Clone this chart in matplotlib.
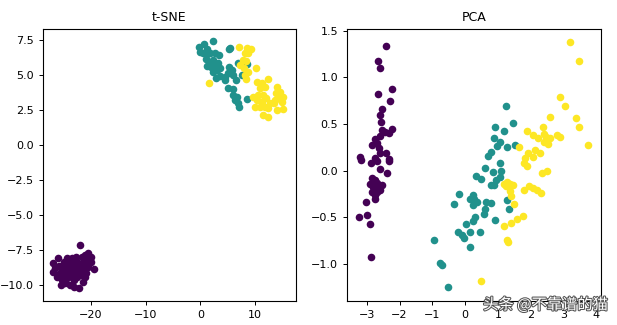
import matplotlib
matplotlib.use("Agg")
import matplotlib.pyplot as plt
import matplotlib.patheffects as pe

# t-SNE embedding (x, y per class)
tsne_setosa_x = [-22.0, -26.9, -26.0, -26.6, -25.8, -25.0, -24.4, -23.5, -22.6, -21.7,
                 -21.1, -20.5, -20.1, -20.9, -20.0, -21.4, -22.1, -22.9, -23.8, -24.7,
                 -25.7, -26.3, -25.0, -24.1, -23.2, -22.3, -21.4, -20.6, -19.5, -20.9,
                 -21.7, -21.1, -22.6, -23.5, -24.4, -25.3, -24.7, -25.5, -23.8, -23.2,
                 -22.3, -23.1, -21.4, -22.0, -24.4, -22.7, -26.9, -20.5, -23.7, -25.3]
tsne_setosa_y = [-7.12, -8.45, -8.10, -8.81, -8.64, -8.33, -8.57, -8.10, -8.33, -7.98,
                 -7.86, -7.74, -8.02, -8.21, -8.33, -8.45, -8.64, -8.69, -8.81, -8.93,
                 -9.17, -9.41, -9.29, -9.17, -9.05, -8.93, -8.93, -8.74, -8.86, -9.12,
                 -9.29, -9.45, -9.41, -9.41, -9.52, -9.64, -9.88, -10.0, -10.0, -10.17,
                 -10.19, -9.64, -9.76, -9.17, -8.10, -7.98, -9.05, -8.45, -8.45, -8.69]

tsne_versicolor_x = [-0.2, 0.0, 0.7, 1.3, 2.27, 0.4, 1.2, 1.8, 2.7, 3.5,
                     5.2, 5.4, 1.06, 1.66, 2.4, 1.2, 1.96, 2.7, 3.3, 2.27,
                     3.0, 3.6, 2.87, 3.6, 4.5, 5.0, 5.7, 6.0, 6.5, 6.97,
                     8.5, 7.7, 5.1, 5.9, 6.0, 6.76, 6.3, 6.97, 7.1, 8.5,
                     4.5, 5.3]
tsne_versicolor_y = [7.02, 6.67, 7.2, 6.84, 7.4, 6.55, 6.48, 6.6, 6.55, 6.43,
                     6.84, 6.95, 6.12, 5.95, 6.07, 5.64, 5.6, 5.71, 5.83, 5.24,
                     5.36, 5.48, 4.76, 4.93, 4.88, 5.17, 5.36, 5.0, 4.64, 5.83,
                     5.76, 5.0, 4.05, 3.98, 3.57, 3.45, 3.21, 2.98, 2.74, 3.26,
                     4.64, 5.6]

tsne_virginica_x = [7.13, 8.48, 9.2, 8.17, 8.8, 7.75, 8.35, 7.26, 8.0, 8.8,
                    8.17, 8.35, 10.2, 1.53, 10.4, 11.2, 12.4, 10.9, 11.8, 10.6,
                    11.5, 10.3, 11.2, 12.1, 12.7, 10.9, 11.8, 12.4, 11.5, 12.4,
                    14.0, 13.9, 14.6, 15.1, 14.3, 13.7, 14.9, 14.0, 15.1, 13.4,
                    9.7, 10.0]
tsne_virginica_y = [7.02, 6.95, 6.86, 6.55, 6.6, 6.07, 6.02, 5.71, 5.48, 5.24,
                    5.0, 4.69, 5.52, 4.45, 4.52, 4.4, 4.69, 4.05, 4.12, 3.57,
                    3.57, 3.21, 3.1, 3.33, 2.98, 2.74, 2.74, 2.62, 2.14, 1.98,
                    4.12, 3.69, 3.81, 3.45, 3.33, 3.21, 3.1, 2.5, 2.55, 2.98,
                    3.45, 2.74]

# PCA projection
pca_setosa_x = [-2.40, -2.65, -2.61, -2.65, -2.22, -2.30, -2.52, -2.61, -2.57, -2.54,
                -2.23, -2.32, -2.43, -2.59, -2.74, -2.69, -2.83, -3.22, -2.64, -2.59,
                -2.41, -2.74, -2.32, -3.17, -2.87, -2.69, -2.32, -2.61, -2.37, -2.84,
                -2.74, -2.90, -2.69, -2.54, -2.64, -2.80, -2.84, -2.69, -2.59, -2.74,
                -2.76, -3.02, -3.00, -3.23, -2.90, -2.87]
pca_setosa_y = [1.34, 1.18, 1.10, 0.82, 0.88, 0.75, 0.66, 0.60, 0.52, 0.44,
                0.45, 0.40, 0.41, 0.37, 0.34, 0.30, 0.28, 0.145, 0.24, 0.185,
                0.19, 0.13, 0.12, 0.11, 0.08, 0.10, 0.10, 0.02, -0.03, -0.08,
                -0.10, -0.14, -0.13, -0.15, -0.17, -0.18, -0.23, -0.23, -0.21, -0.26,
                -0.31, -0.34, -0.48, -0.50, -0.57, -0.93]

pca_versicolor_x = [1.25, 1.45, 0.91, 1.19, 0.88, 1.05, 0.97, 1.29, 1.52, 0.78,
                    0.71, 1.07, 0.61, 0.86, 1.07, 0.33, 0.49, 0.95, 0.79, 0.88,
                    -0.20, 0.25, 0.15, 0.28, 0.36, -0.33, 0.23, 0.63, 0.78, 1.27,
                    1.35, 0.62, 0.56, 0.31, 0.25, 0.03, 0.92, -0.22, -0.10, -0.02,
                    0.15, 0.44, -0.94, 0.15, -0.76, -0.71, -0.53, 1.10]
pca_versicolor_y = [0.69, 0.51, 0.47, 0.42, 0.35, 0.31, 0.26, 0.25, 0.27, 0.20,
                    0.16, 0.08, 0.03, -0.02, -0.07, -0.06, -0.09, -0.10, -0.15, -0.16,
                    -0.25, -0.26, -0.30, -0.31, -0.34, -0.36, -0.37, -0.34, -0.35, -0.32,
                    -0.41, -0.41, -0.47, -0.50, -0.54, -0.57, -0.53, -0.66, -0.69, -0.72,
                    -0.66, -0.66, -0.74, -0.82, -0.99, -1.01, -1.25, 0.0]

pca_virginica_x = [3.20, 3.46, 2.88, 3.05, 2.59, 3.37, 3.48, 2.36, 1.90, 2.08,
                   2.39, 2.23, 2.47, 2.59, 2.39, 2.54, 2.80, 2.90, 3.76, 1.63,
                   1.93, 2.13, 2.29, 2.08, 1.83, 1.78, 1.90, 2.34, 2.51, 1.17,
                   1.27, 1.37, 1.45, 1.25, 1.37, 1.39, 1.78, 1.96, 2.08, 2.19,
                   2.31, 1.49, 1.76, 1.58, 1.39, 1.17, 1.27, 1.32, 0.49]
pca_virginica_y = [1.38, 1.18, 0.79, 0.69, 0.57, 0.56, 0.47, 0.47, 0.42, 0.38,
                   0.39, 0.35, 0.36, 0.35, 0.31, 0.29, 0.38, 0.36, 0.27, 0.25,
                   0.19, 0.22, 0.19, 0.15, 0.13, 0.08, 0.05, -0.03, -0.005, -0.14,
                   -0.12, -0.14, -0.15, -0.17, -0.22, -0.27, -0.21, -0.17, -0.19, -0.21,
                   -0.24, -0.36, -0.49, -0.52, -0.56, -0.59, -0.75, -0.77, -1.18]

colores = ['#440154', '#21918c', '#fde725']

plt.rcParams['font.size'] = 8
fig = plt.figure(figsize=(6.17, 3.25), dpi=100)
ax1 = fig.add_axes([0.0697, 0.0738, 0.410, 0.837])
ax2 = fig.add_axes([0.563, 0.0738, 0.411, 0.837])

# Panel t-SNE
for xs, ys, c in zip([tsne_setosa_x, tsne_versicolor_x, tsne_virginica_x],
                     [tsne_setosa_y, tsne_versicolor_y, tsne_virginica_y], colores):
    ax1.scatter(xs, ys, c=c, s=30, linewidths=0)
ax1.set_xlim(-28.8, 17.5)
ax1.set_ylim(-11.14, 8.29)
ax1.set_xticks([-20, -10, 0, 10])
ax1.set_yticks([-10.0, -7.5, -5.0, -2.5, 0.0, 2.5, 5.0, 7.5])
ax1.set_title("t-SNE", fontsize=9)

# Panel PCA
for xs, ys, c in zip([pca_setosa_x, pca_versicolor_x, pca_virginica_x],
                     [pca_setosa_y, pca_versicolor_y, pca_virginica_y], colores):
    ax2.scatter(xs, ys, c=c, s=30, linewidths=0)
ax2.set_xlim(-3.59, 4.14)
ax2.set_ylim(-1.40, 1.52)
ax2.set_xticks([-3, -2, -1, 0, 1, 2, 3, 4])
ax2.set_yticks([-1.0, -0.5, 0.0, 0.5, 1.0, 1.5])
ax2.set_title("PCA", fontsize=9)

for ax in (ax1, ax2):
    ax.tick_params(length=3, width=0.7, labelsize=8)
    for sp in ax.spines.values():
        sp.set_linewidth(0.8)

# marca de agua
fig.text(0.985, 0.062, "头条 @不靠谱的猫", ha='right', va='center', fontsize=11,
         color='white', family=['Noto Sans CJK SC', 'DejaVu Sans'],
         path_effects=[pe.withStroke(linewidth=1.5, foreground='#555555')])

fig.savefig("out.png", dpi=100)
